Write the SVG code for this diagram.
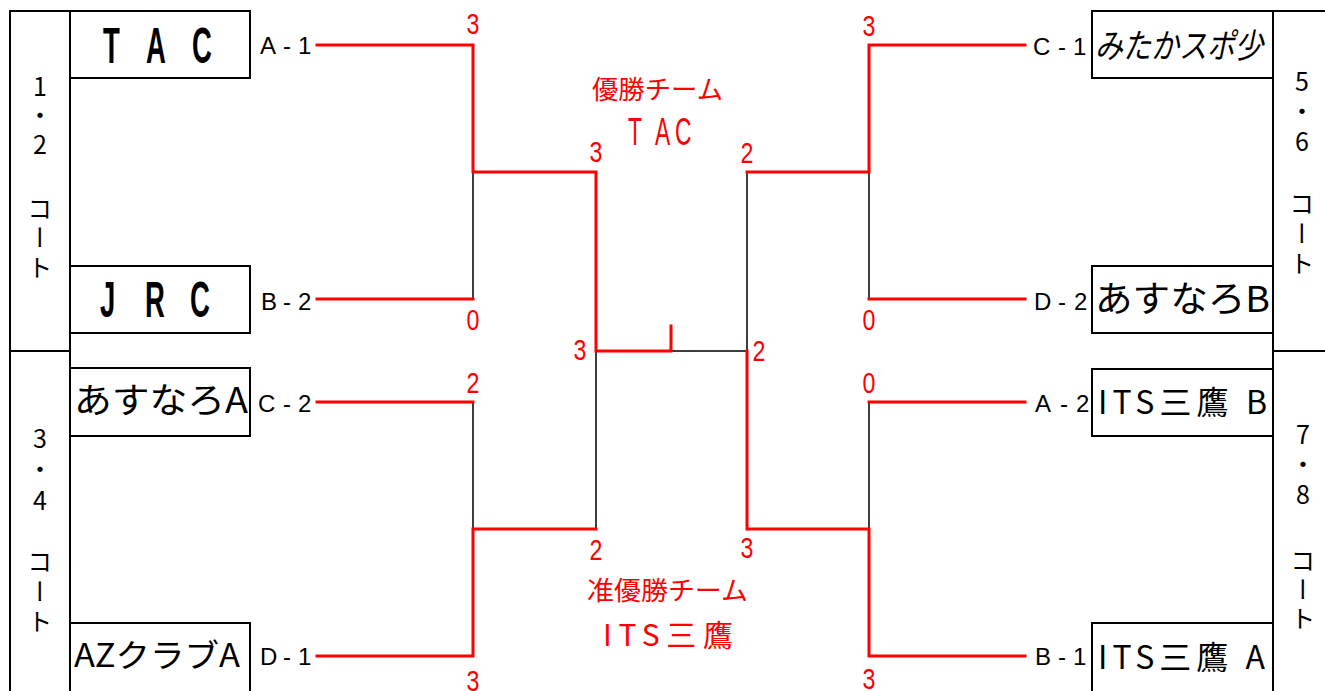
<svg xmlns="http://www.w3.org/2000/svg" width="1325" height="691" viewBox="0 0 1325 691">
<style>
.bg{fill:#fff}
.frame{fill:none;stroke:#000;stroke-width:2}
.box{fill:#fff;stroke:#000;stroke-width:2}
.win{fill:none;stroke:#f00;stroke-width:3;stroke-linejoin:miter;stroke-linecap:square}
.lose{fill:none;stroke:#000;stroke-width:1.5}
.score{fill:#f00;font-family:"Liberation Sans",sans-serif;font-size:29px;text-anchor:middle}
.lbl{fill:#000;font-family:"Liberation Sans",sans-serif;font-size:24px}
.team{fill:#000;font-family:"Noto Sans CJK JP",sans-serif}
.big{fill:#000;font-family:"Liberation Sans",sans-serif;font-size:50px;font-weight:bold}
.court{fill:#000;font-family:"Noto Sans CJK JP",sans-serif;font-size:25px;writing-mode:vertical-rl;text-orientation:upright}
.red{fill:#f00;font-family:"Noto Sans CJK JP",sans-serif}
</style>
<rect class="bg" x="0" y="0" width="1325" height="691"/>

<g id="frame">
  <path class="frame" d="M10,691 V11 H70 M70,11 V691 M10,351 H70"/>
  <path class="frame" d="M1273,11 H1325 M1273,11 V691 M1273,351 H1325"/>
</g>

<g id="connectors">
  <path class="lose" d="M473,172 V299 M473,402 V529 M596,351 V529 M671,351 H747 M869,172 V299 M747,172 V351 M869,402 V529"/>
  <path class="win" d="M317,45 H473 V172 H596 V351 H671 M671,326 V351"/>
  <path class="win" d="M317,299 H473"/>
  <path class="win" d="M317,402 H473"/>
  <path class="win" d="M317,656 H473 V529 H596"/>
  <path class="win" d="M1025,45 H869 V172 H747"/>
  <path class="win" d="M1025,299 H869"/>
  <path class="win" d="M747,351 V529 H869 V656 H1025"/>
  <path class="win" d="M1025,402 H869"/>
</g>

<g id="scores" transform="scale(0.8,1)">
  <text class="score" x="591.25" y="34">3</text>
  <text class="score" x="591.25" y="330">0</text>
  <text class="score" x="745" y="162">3</text>
  <text class="score" x="725" y="360">3</text>
  <text class="score" x="948.75" y="361">2</text>
  <text class="score" x="591.25" y="393">2</text>
  <text class="score" x="745" y="560">2</text>
  <text class="score" x="591.25" y="691">3</text>
  <text class="score" x="1086.25" y="36">3</text>
  <text class="score" x="933.75" y="163">2</text>
  <text class="score" x="1086.25" y="330">0</text>
  <text class="score" x="1086.25" y="393">0</text>
  <text class="score" x="933.75" y="558">3</text>
  <text class="score" x="1086.25" y="689">3</text>
</g>

<g id="labels">
  <text class="lbl" x="260 283 298" y="54">A-1</text>
  <text class="lbl" x="261 283 298" y="310">B-2</text>
  <text class="lbl" x="258 283 298" y="412">C-2</text>
  <text class="lbl" x="260 283 298" y="665">D-1</text>
  <text class="lbl" x="1033 1058 1073" y="55">C-1</text>
  <text class="lbl" x="1034 1058 1074" y="310">D-2</text>
  <text class="lbl" x="1035 1060 1076" y="412">A-2</text>
  <text class="lbl" x="1035 1058 1073" y="665">B-1</text>
</g>

<g id="team-tac">
  <rect class="box" x="70" y="11" width="180" height="67"/>
  <text class="big" transform="scale(0.55,1)" x="187.3 265.5 349.1" y="63">TAC</text>
</g>
<g id="team-jrc">
  <rect class="box" x="70" y="266" width="180" height="67"/>
  <text class="big" transform="scale(0.55,1)" x="181.8 263.6 345.5" y="317">JRC</text>
</g>
<g id="team-asunaro-a">
  <rect class="box" x="70" y="368" width="180" height="68"/>
  <text class="team" x="74" y="413" font-size="35" textLength="174" lengthAdjust="spacingAndGlyphs">あすなろA</text>
</g>
<g id="team-az">
  <rect class="box" x="70" y="623" width="180" height="70"/>
  <text class="team" x="74" y="667" font-size="32" textLength="166" lengthAdjust="spacingAndGlyphs">AZクラブA</text>
</g>
<g id="team-mitaka">
  <rect class="box" x="1092" y="11" width="181" height="67"/>
  <text class="team" x="1095" y="58" font-size="34" font-style="italic" textLength="168" lengthAdjust="spacingAndGlyphs">みたかスポ少</text>
</g>
<g id="team-asunaro-b">
  <rect class="box" x="1092" y="266" width="181" height="67"/>
  <text class="team" x="1095" y="312" font-size="36" textLength="175" lengthAdjust="spacingAndGlyphs">あすなろB</text>
</g>
<g id="team-its-b">
  <rect class="box" x="1092" y="369" width="181" height="67"/>
  <text class="team" x="1098" y="414" font-size="32" textLength="169" lengthAdjust="spacing">ITS三鷹 B</text>
</g>
<g id="team-its-a">
  <rect class="box" x="1092" y="623" width="181" height="70"/>
  <text class="team" x="1098" y="669" font-size="32" textLength="167" lengthAdjust="spacing">ITS三鷹 A</text>
</g>

<g id="court-12">
  <text class="court" x="40" y="73.5" style="letter-spacing:4px">1・2</text>
  <text class="court" x="40" y="195.5" style="letter-spacing:4.5px">コート</text>
</g>
<g id="court-34">
  <text class="court" x="40" y="425.5" style="letter-spacing:6px">3・4</text>
  <text class="court" x="40" y="548.5" style="letter-spacing:5px">コート</text>
</g>
<g id="court-56">
  <text class="court" x="1302" y="68.5" style="letter-spacing:5px">5・6</text>
  <text class="court" x="1302" y="190.5" style="letter-spacing:5px">コート</text>
</g>
<g id="court-78">
  <text class="court" x="1303" y="421.5" style="letter-spacing:5px">7・8</text>
  <text class="court" x="1303" y="547.5" style="letter-spacing:4px">コート</text>
</g>

<g id="winner">
  <text class="red" x="592" y="99" font-size="26" textLength="131" lengthAdjust="spacingAndGlyphs">優勝チーム</text>
  <text class="red" transform="scale(0.6,1)" x="1046.7 1091.7 1125" y="145" font-size="38" style="font-family:'Liberation Sans',sans-serif">TAC</text>
</g>
<g id="runner-up">
  <text class="red" x="587" y="600" font-size="26" textLength="161" lengthAdjust="spacingAndGlyphs">准優勝チーム</text>
  <text class="red" x="603" y="646" font-size="30" textLength="130" lengthAdjust="spacing">ITS三鷹</text>
</g>
</svg>
